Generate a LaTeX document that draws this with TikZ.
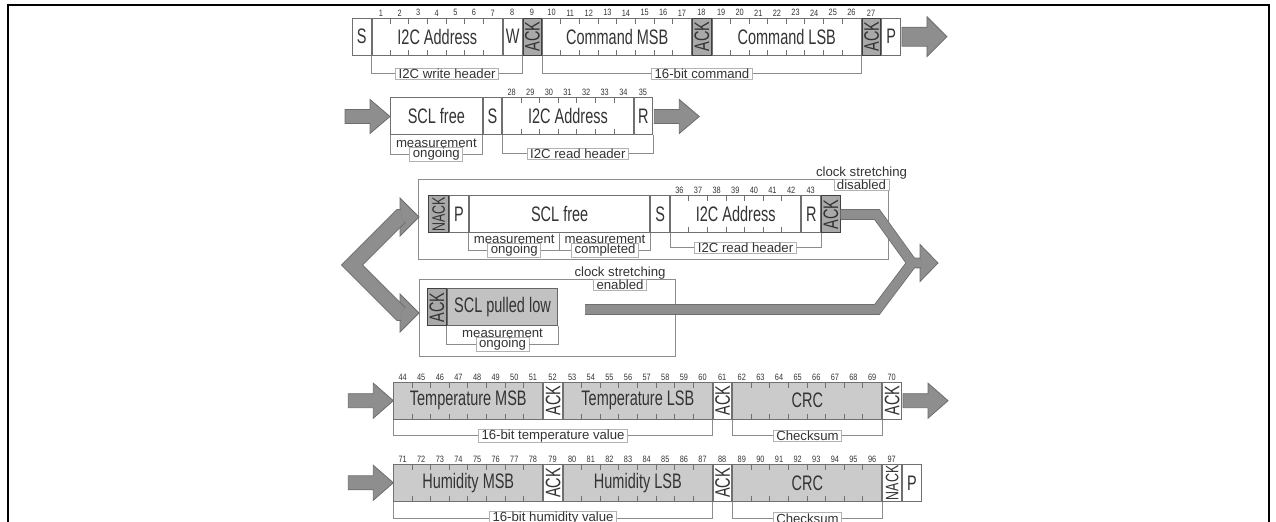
\documentclass[tikz,border=0pt]{standalone}
\usepackage{fontspec}
\setmainfont{Liberation Sans}
\newfontfamily\narrowsf{Liberation Sans}[FakeStretch=0.69]
\newfontfamily\digitsf{Liberation Sans}[FakeStretch=0.8]
\usetikzlibrary{positioning,calc}

\definecolor{ink}{HTML}{333333}
\definecolor{rim}{HTML}{707070}
\definecolor{ackgray}{HTML}{A9A9A9}
\definecolor{datagray}{HTML}{CBCBCB}
\definecolor{pipe}{HTML}{8E8E8E}
\definecolor{pipeline}{HTML}{6C6C6C}

\newcommand\bw{9.31pt}

\tikzset{
  cell/.style={draw=rim, line width=0.5pt, minimum height=18.5pt, inner sep=0pt, text=ink, font=\narrowsf\fontsize{10.5}{10.5}\selectfont},
  ackcell/.style={cell, fill=ackgray, draw=black!75},
  lowcell/.style={cell, fill=black!24, draw=black!60},
  datacell/.style={cell, fill=datagray},
  bitno/.style={font=\digitsf\fontsize{4.6}{4.6}\selectfont, text=ink, inner sep=0pt, anchor=south},
  tick/.style={draw=rim, line width=0.4pt},
  tag/.style={draw=black!30, fill=white, font=\fontsize{6.6}{6.6}\selectfont, text=ink, inner xsep=1.5pt, inner ysep=0.3pt},
  tagtop/.style={font=\fontsize{6.6}{6.6}\selectfont, text=ink, inner sep=0pt, yshift=-0.4pt},
  brace/.style={draw=black!45, line width=0.4pt},
  box/.style={draw=black!45, line width=0.5pt},
  pipe/.style={fill=pipe, draw=pipeline, line width=0.4pt},
  fork out/.style={draw=pipeline, line width=7.8pt, line join=miter},
  fork in/.style={draw=pipe, line width=7pt, line join=miter},
  slim out/.style={draw=pipeline, line width=5.3pt, line join=miter},
  slim in/.style={draw=pipe, line width=4.5pt, line join=miter},
}

% style, name, previous node, bits, first bit number (0 = none), text
\newcommand\field[6][cell]{%
  \node[#1, minimum width=#4*\bw, right=0pt of #3] (#2) {#6};
  \ifnum#5>0
    \foreach \k [evaluate=\k as \bitn using int(#5+\k-1)] in {1,...,#4}
      \node[bitno] at ($(#2.north west)+(\k*\bw-0.5*\bw,0.6pt)$) {\bitn};
    \ifnum#4>1
      \foreach \k in {2,...,#4}
        \draw[tick] ($(#2.north west)+(\k*\bw-\bw,0pt)$) -- ++(0pt,-3pt)
                    ($(#2.south west)+(\k*\bw-\bw,0pt)$) -- ++(0pt,3pt);
    \fi
  \fi}

% tail point, shaft half width, head half width
\newcommand\garrow[3]{\draw[pipe] #1 ++(0,-#2) -- ++(25,0) -- ++(0,#2-#3) -- ++(20,#3) -- ++(-20,#3) -- ++(0,#2-#3) -- ++(-25,0) -- cycle;}

\begin{document}
\begin{tikzpicture}[x=0.5pt,y=-0.5pt]
\useasboundingbox (0,0) rectangle (1276,522);
\draw[line width=1pt] (7.7,530) -- (7.7,5) -- (1268.5,5) -- (1268.5,530);

\coordinate (r1) at (352,36.7);
\field{s1}{r1}{1}{0}{S}
\field{adr1}{s1}{7}{1}{I2C Address}
\field{w1}{adr1}{1}{8}{W}
\field[ackcell]{ack9}{w1}{1}{9}{\rotatebox{90}{ACK}}
\field{cmsb}{ack9}{8}{10}{Command MSB}
\field[ackcell]{ack18}{cmsb}{1}{18}{\rotatebox{90}{ACK}}
\field{clsb}{ack18}{8}{19}{Command LSB}
\field[ackcell]{ack27}{clsb}{1}{27}{\rotatebox{90}{ACK}}
\field{p1}{ack27}{1}{0}{P}
\garrow{([xshift=.5pt]p1.east)}{9.5}{20}
\node[tag] (wh) at ($(adr1.south west)!.5!(w1.south east)+(0,18)$) {I2C write header};
\draw[brace] (adr1.south west) |- (wh.west) (wh.east) -| (w1.south east);
\node[tag] (cmd) at ($(cmsb.south west)!.5!(clsb.south east)+(0,18)$) {16-bit command};
\draw[brace] (cmsb.south west) |- (cmd.west) (cmd.east) -| (clsb.south east);

\coordinate (r2) at (390,116.5);
\field{free2}{r2}{4.925}{0}{SCL free}
\field{s2}{free2}{1}{0}{S}
\field{adr2}{s2}{7}{28}{I2C Address}
\field{rd2}{adr2}{1}{35}{R}
\garrow{([xshift=-22.5pt]free2.west)}{7}{17}
\garrow{([xshift=.5pt]rd2.east)}{7}{17}
\node[tag, label={[tagtop]90:measurement}] (mo2) at ($(free2.south west)!.5!(free2.south east)+(0,19)$) {ongoing};
\draw[brace] (free2.south west) |- (mo2.west) (mo2.east) -| (free2.south east);
\node[tag] (rh2) at ($(adr2.south west)!.5!(rd2.south east)+(0,18)$) {I2C read header};
\draw[brace] (adr2.south west) |- (rh2.west) (rh2.east) -| (rd2.south east);

\coordinate (r3) at (428.3,214.5);
\field[ackcell]{nack3}{r3}{1.07}{0}{\fontsize{9}{9}\selectfont\rotatebox{90}{NACK}}
\field{p3}{nack3}{1}{0}{P}
\field{free3}{p3}{9.7}{0}{SCL free}
\field{s3}{free3}{1}{0}{S}
\field{adr3}{s3}{7}{36}{I2C Address}
\field{rd3}{adr3}{1}{43}{R}
\field[ackcell]{ack3}{rd3}{1}{0}{\rotatebox{90}{ACK}}
\node[tag, label={[tagtop]90:measurement}] (mo3) at ($(free3.south west)!.5!(free3.south)+(0,17)$) {ongoing};
\node[tag, label={[tagtop]90:measurement}] (mc3) at ($(free3.south)!.5!(free3.south east)+(0,17)$) {completed};
\draw[brace] (free3.south west) |- (mo3.west) (mo3.east) -| (free3.south) |- (mc3.west) (mc3.east) -| (free3.south east);
\node[tag] (rh3) at ($(adr3.south west)!.5!(rd3.south east)+(0,14)$) {I2C read header};
\draw[brace] (adr3.south west) |- (rh3.west) (rh3.east) -| (rd3.south east);
\node[tag, label={[tagtop]90:clock stretching}] (csd) at (861.5,185) {disabled};
\coordinate (dl) at (418,260);
\coordinate (dr) at (888,260);
\draw[box] (csd.north west) -| (dl) -- (dr) -- (dr |- csd.south);

\coordinate (r6) at (427,307.5);
\field[ackcell]{ack6}{r6}{1}{0}{\rotatebox{90}{ACK}}
\field[lowcell]{low}{ack6}{5.95}{0}{SCL pulled low}
\node[tag, label={[tagtop]90:measurement}] (mo6) at ($(low.south west)!.5!(low.south east)+(0,18)$) {ongoing};
\draw[brace] (low.south west) |- (mo6.west) (mo6.east) -| (low.south east);
\node[tag, label={[tagtop]90:clock stretching}] (cse) at (620,285) {enabled};
\coordinate (el) at (419,356.7);
\coordinate (er) at (675,356.7);
\draw[box] (cse.north west) -| (el) -- (er) |- (cse.north east);

\fill[pipe] (400,198) -- (419,217) -- (400,236) -- cycle;
\fill[pipe] (400,294) -- (419,313) -- (400,332) -- cycle;
\foreach \st in {fork out,fork in}
  \draw[\st] (401,217) -- (400,217) -- (352,265) -- (400,313) -- (401,313);

\coordinate (jn) at (912,263);
\fill[pipe] (920,244.5) -- (938,263) -- (920,281.5) -- cycle;
\foreach \st in {slim out,slim in}
  \draw[\st] (ack3.east) -- (877,214.5) -- (jn) -- (921,263)
       (585,309.5) -- (877,309.5) -- (jn) -- (921,263);

\coordinate (r4) at (393.3,400.7);
\field[datacell]{tmsb}{r4}{8}{44}{Temperature MSB}
\field{ack52}{tmsb}{1}{52}{\rotatebox{90}{ACK}}
\field[datacell]{tlsb}{ack52}{8}{53}{Temperature LSB}
\field{ack61}{tlsb}{1}{61}{\rotatebox{90}{ACK}}
\field[datacell]{crc4}{ack61}{8}{62}{CRC}
\field{ack70}{crc4}{1}{70}{\rotatebox{90}{ACK}}
\garrow{([xshift=-22.5pt]tmsb.west)}{7}{17.5}
\garrow{([xshift=.5pt]ack70.east)}{7}{17.5}
\node[tag] (tv) at ($(tmsb.south west)!.5!(tlsb.south east)+(0,16)$) {16-bit temperature value};
\draw[brace] (tmsb.south west) |- (tv.west) (tv.east) -| (tlsb.south east);
\node[tag] (cs4) at ($(crc4.south west)!.5!(crc4.south east)+(0,16)$) {Checksum};
\draw[brace] (crc4.south west) |- (cs4.west) (cs4.east) -| (crc4.south east);

\coordinate (r5) at (393.3,482.8);
\field[datacell]{hmsb}{r5}{8}{71}{Humidity MSB}
\field{ack79}{hmsb}{1}{79}{\rotatebox{90}{ACK}}
\field[datacell]{hlsb}{ack79}{8}{80}{Humidity LSB}
\field{ack88}{hlsb}{1}{88}{\rotatebox{90}{ACK}}
\field[datacell]{crc5}{ack88}{8}{89}{CRC}
\field{nack97}{crc5}{1}{97}{\fontsize{9}{9}\selectfont\rotatebox{90}{NACK}}
\field{p5}{nack97}{1}{0}{P}
\garrow{([xshift=-22.5pt]hmsb.west)}{7}{17.5}
\node[tag] (hv) at ($(hmsb.south west)!.5!(hlsb.south east)+(0,16.5)$) {16-bit humidity value};
\draw[brace] (hmsb.south west) |- (hv.west) (hv.east) -| (hlsb.south east);
\node[tag] (cs5) at ($(crc5.south west)!.5!(crc5.south east)+(0,16.5)$) {Checksum};
\draw[brace] (crc5.south west) |- (cs5.west) (cs5.east) -| (crc5.south east);
\end{tikzpicture}
\end{document}
